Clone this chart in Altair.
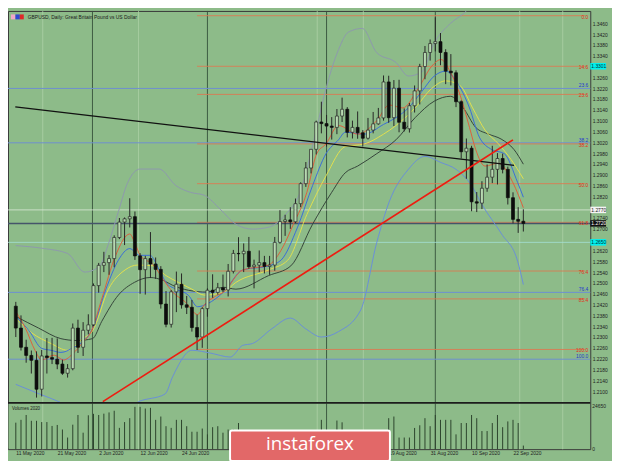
import altair as alt
import pandas as pd

BG = "#8dbb89"

# ---------------- candles (index 0 = 11 May 2020, daily) ----------------
opens = [1.2414,1.2333,1.2262,1.2232,1.2214,1.2107,1.2230,1.2224,1.2218,1.2200,
         1.2166,1.2183,1.2333,1.2262,1.2325,1.2345,1.2490,1.2565,1.2575,1.2590,
         1.2668,1.2725,1.2737,1.2745,1.2600,1.2549,1.2590,1.2570,1.2550,1.2422,
         1.2347,1.2467,1.2495,1.2419,1.2410,1.2335,1.2300,1.2405,1.2473,1.2465,
         1.2482,1.2474,1.2543,1.2609,1.2608,1.2617,1.2560,1.2566,1.2575,1.2561,
         1.2566,1.2650,1.2727,1.2733,1.2726,1.2793,1.2867,1.2925,1.2994,1.3095,
         1.3089,1.3080,1.3075,1.3117,1.3142,1.3057,1.3075,1.3055,1.3035,1.3065,
         1.3088,1.3110,1.3243,1.3111,1.3220,1.3094,1.3070,1.3155,1.3210,1.3300,
         1.3352,1.3385,1.3392,1.3352,1.3283,1.3277,1.3170,1.2985,1.2998,1.2800,
         1.2795,1.2850,1.2891,1.2920,1.2960,1.2920,1.2815,1.2735,1.2728]
highs = [1.2430,1.2380,1.2290,1.2250,1.2247,1.2252,1.2296,1.2297,1.2295,1.2216,
         1.2200,1.2350,1.2364,1.2355,1.2384,1.2498,1.2574,1.2615,1.2603,1.2676,
         1.2740,1.2742,1.2813,1.2764,1.2610,1.2600,1.2688,1.2594,1.2562,1.2470,
         1.2474,1.2542,1.2535,1.2452,1.2437,1.2383,1.2410,1.2480,1.2532,1.2500,
         1.2531,1.2570,1.2622,1.2669,1.2646,1.2670,1.2586,1.2620,1.2600,1.2600,
         1.2670,1.2769,1.2752,1.2780,1.2812,1.2872,1.2947,1.2995,1.3100,1.3170,
         1.3121,1.3113,1.3143,1.3185,1.3150,1.3100,1.3134,1.3065,1.3110,1.3132,
         1.3147,1.3267,1.3266,1.3250,1.3251,1.3145,1.3165,1.3230,1.3310,1.3376,
         1.3400,1.3482,1.3424,1.3364,1.3346,1.3286,1.3175,1.3034,1.3007,1.2836,
         1.2876,1.2938,1.3007,1.2980,1.2978,1.2930,1.2835,1.2780,1.2772]
lows = [1.2300,1.2250,1.2205,1.2165,1.2076,1.2080,1.2165,1.2200,1.2181,1.2160,
        1.2150,1.2177,1.2241,1.2230,1.2310,1.2340,1.2464,1.2540,1.2530,1.2558,
        1.2662,1.2640,1.2705,1.2585,1.2460,1.2457,1.2518,1.2515,1.2405,1.2336,
        1.2335,1.2392,1.2405,1.2385,1.2320,1.2252,1.2260,1.2375,1.2445,1.2457,
        1.2466,1.2450,1.2535,1.2580,1.2540,1.2552,1.2480,1.2540,1.2535,1.2530,
        1.2545,1.2645,1.2674,1.2700,1.2721,1.2780,1.2855,1.2905,1.2975,1.3053,
        1.3004,1.3030,1.3050,1.3095,1.3038,1.3034,1.3033,1.3004,1.3030,1.3053,
        1.3085,1.3100,1.3092,1.3080,1.3057,1.3060,1.3056,1.3130,1.3160,1.3253,
        1.3322,1.3356,1.3305,1.3235,1.3230,1.3150,1.2960,1.2885,1.2765,1.2762,
        1.2773,1.2837,1.2869,1.2864,1.2905,1.2790,1.2720,1.2685,1.2690]
closes = [1.2333,1.2262,1.2232,1.2214,1.2107,1.2230,1.2224,1.2218,1.2200,1.2166,
          1.2183,1.2333,1.2262,1.2325,1.2345,1.2490,1.2565,1.2575,1.2590,1.2668,
          1.2725,1.2737,1.2745,1.2600,1.2549,1.2590,1.2570,1.2550,1.2422,1.2347,
          1.2467,1.2495,1.2419,1.2410,1.2335,1.2300,1.2405,1.2473,1.2465,1.2482,
          1.2474,1.2543,1.2609,1.2608,1.2617,1.2560,1.2566,1.2575,1.2561,1.2566,
          1.2650,1.2727,1.2733,1.2726,1.2793,1.2867,1.2925,1.2994,1.3095,1.3089,
          1.3080,1.3075,1.3117,1.3142,1.3057,1.3075,1.3055,1.3035,1.3065,1.3088,
          1.3110,1.3243,1.3111,1.3220,1.3094,1.3070,1.3155,1.3210,1.3300,1.3352,
          1.3385,1.3392,1.3352,1.3283,1.3277,1.3170,1.2985,1.2998,1.2800,1.2795,
          1.2850,1.2891,1.2920,1.2960,1.2920,1.2815,1.2735,1.2728,1.2720]
volumes = [15000,
           16600,19350,16060,16060,15340,15340,13150,13700,11120,6580,13860,19350,9320,19180,
           20000,
           19350,20100,20800,21750,12060,15340,17540,23950,23950,23000,23400,16600,18470,13000,
           12060,16600,16600,13000,9860,9860,11670,8380,12440,13000,9320,11120,11000,14800,
           10000,10500,9000,9500,8000,8500,9500,10500,9000,9500,9000,10000,10500,10800,
           10500,16600,10000,9500,16200,15200,9000,9500,10000,9000,9500,8500,9000,10800,
           17540,18470,6580,6580,6580,12000,13530,17540,13000,19350,16600,16600,16600,8380,
           14800,14800,19350,17540,10250,10250,14800,19350,12440,15710,16600,14800,2020]

# date labels that are visible (the ones between 24 Jun and 19 Aug sit under the logo banner)
tick_idx = [0, 8, 16, 24, 32, 72, 80, 88, 96]
tick_labels = ["11 May 2020", "21 May 2020", "2 Jun 2020", "12 Jun 2020", "24 Jun 2020",
               "19 Aug 2020", "31 Aug 2020", "10 Sep 2020", "22 Sep 2020"]
# price scale labels (the ones hidden behind the price markers are left out)
price_ticks = [round(1.2100 + 0.004 * i, 4) for i in range(35)]
price_ticks = [p for p in price_ticks if p not in (1.3300, 1.2780, 1.2660)]

# ---------------- indicator lines (index, price) ----------------
ma_red_x = [0,1.85,3.7,5.0,7.4,9.2,11.1,12.9,14.6,16.6,19.2,22.0,22.9,24.0,26.6,28.5,30.3,32.7,35.1,36.4,38.3,40.1,
            43.8,48.8,51.2,53.6,56.2,58.1,59.9,62.3,66.0,69.7,72.1,74.7,77.7,80.3,82.1,83.9,85.8,87.6,88.8,90.6,93.2,95.6,98]
ma_red_y = [1.2394,1.2333,1.2251,1.2215,1.2233,1.2215,1.2240,1.2279,1.2322,1.2441,1.2598,1.2681,1.2652,1.2602,1.2566,
            1.2512,1.2466,1.2430,1.2383,1.2419,1.2448,1.2466,1.2548,1.2566,1.2620,1.2717,1.2835,1.2978,1.3014,1.3082,
            1.3050,1.3100,1.3158,1.3147,1.3219,1.3301,1.3326,1.3280,1.3194,1.3075,1.2993,1.2932,1.2943,1.2885,1.2778]
ma_blue_x = [0,2.6,5.0,6.8,8.7,11.1,13.7,14.8,17.4,19.8,22.0,23.9,25.9,27.7,29.0,30.9,33.3,35.1,37.0,40.1,43.8,48.8,
             51.2,54.4,57.3,59.9,62.3,63.6,67.3,71.0,73.4,75.8,78.4,80.8,83.0,85.1,87.6,89.5,91.9,94.3,96.9,98]
ma_blue_y = [1.2376,1.2322,1.2258,1.2251,1.2243,1.2261,1.2297,1.2330,1.2477,1.2584,1.2627,1.2602,1.2602,1.2548,1.2502,
             1.2477,1.2455,1.2412,1.2423,1.2466,1.2548,1.2563,1.2584,1.2706,1.2860,1.2978,1.3029,1.3057,1.3050,1.3086,
             1.3111,1.3147,1.3208,1.3265,1.3283,1.3244,1.3147,1.3039,1.2993,1.2978,1.2871,1.2817]
ma_yellow_x = [0,3.1,6.8,10.0,12.9,14.8,17.9,21.1,23.5,26.6,29.0,31.4,34.0,36.4,40.1,42.5,48.8,52.5,56.2,59.9,63.6,
               67.3,71.0,73.4,77.1,80.3,83.0,85.8,88.2,90.6,93.2,95.6,98]
ma_yellow_y = [1.2369,1.2315,1.2276,1.2251,1.2294,1.2322,1.2477,1.2548,1.2566,1.2563,1.2527,1.2502,1.2477,1.2455,1.2466,
               1.2502,1.2548,1.2584,1.2753,1.2896,1.3004,1.3014,1.3050,1.3082,1.3147,1.3219,1.3247,1.3229,1.3147,1.3065,
               1.3014,1.2957,1.2885]
ma_dark_x = [0,4.4,8.7,11.8,14.8,16.6,19.8,22.9,25.9,28.5,30.3,33.3,37.0,40.1,42.5,48.8,53.1,57.3,61.0,63.6,66.0,69.7,
             73.4,77.1,80.8,83.9,86.4,88.8,91.3,93.7,96.2,98]
ma_dark_y = [1.2376,1.2333,1.2294,1.2287,1.2294,1.2358,1.2455,1.2502,1.2520,1.2509,1.2491,1.2473,1.2466,1.2484,1.2477,
             1.2527,1.2563,1.2717,1.2835,1.2907,1.2932,1.2978,1.3029,1.3111,1.3172,1.3190,1.3147,1.3075,1.3050,1.3032,
             1.2993,1.2939]
bb_up_x = [0,5.5,10.0,13.3,16.1,17.9,19.8,21.6,24.0,27.7,30.9,33.7,36.4,39.6,42.5,45.7,48.8,52.1,54.9,57.7,59.9,62.3,
           64.2,66.9,69.7,73.4,75.8,78.4,80.8,83.9,86.4,90.0,98]
bb_up_y = [1.2638,1.2627,1.2609,1.2540,1.2560,1.2645,1.2763,1.2871,1.2921,1.2921,1.2860,1.2835,1.2824,1.2770,1.2717,
           1.2699,1.2706,1.2753,1.2835,1.3039,1.3219,1.3362,1.3427,1.3441,1.3351,1.3315,1.3265,1.3280,1.3387,1.3459,
           1.3495,1.3560,1.3600]
bb_lo_x = [0,4.6,8.3,12.4,17.9,23.7,28.8,30.3,34.0,37.7,41.4,43.8,45.7,49.4,53.0,56.0,59.0,62.3,66.6,69.7,72.1,75.8,
           79.0,82.1,85.0,88.0,90.0,93.8,96.9,98]
bb_lo_y = [1.2125,1.2089,1.2061,1.2018,1.1990,1.2061,1.2089,1.2154,1.2251,1.2240,1.2226,1.2269,1.2276,1.2330,1.2370,
           1.2330,1.2300,1.2320,1.2400,1.2650,1.2800,1.2920,1.2968,1.2945,1.2920,1.2860,1.2790,1.2681,1.2580,1.2494]

# trend lines (index, price)
black_x = [-0.1, 96.2]
black_y = [1.3151, 1.2935]
red_x = [16.8, 96.0]
red_y = [1.2061, 1.3029]

# level lines
fib_prices = [1.3488, 1.3301, 1.3197, 1.3014, 1.2867, 1.2724, 1.2544, 1.2441, 1.2254]
fib_labels = ["0.0", "14.6", "23.6", "38.2", "50.0", "61.8", "76.4", "85.4", "100.0"]
fib_start = 35
blue_prices = [1.3219, 1.3018, 1.2465, 1.2218]
blue_labels = ["23.6", "38.2", "76.4", "100.0"]
bid_price = 1.2720
white_price = 1.2770
cyan_price = 1.2650
dark_vlines = [14.8, 37, 60, 81]
light_vlines = [5.2, 23.7, 58.2, 67.1, 97.3, 105.6]
marker_prices = [1.3301, 1.2770, 1.2720, 1.2650]
marker_texts = ["1.3301", "1.2770", "1.2720", "1.2650"]
marker_fill = ["#00f0f0", "#f4f4f4", "#111111", "#00f0f0"]
marker_tcol = ["#003333", "#222222", "#ffffff", "#003333"]

# ---------------- scales & axes ----------------
X_DOM = [-0.5547, 109.97]
P_DOM = [1.18854, 1.35055]
V_DOM = [0, 248170]
xs = alt.Scale(domain=X_DOM, nice=False, zero=False)
ps = alt.Scale(domain=P_DOM, nice=False, zero=False)
vs = alt.Scale(domain=V_DOM, nice=False, zero=False)
label_map = "{" + ",".join("'%d':'%s'" % (i, s) for i, s in zip(tick_idx, tick_labels)) + "}"
XAX = alt.Axis(values=tick_idx, labelExpr=f"{label_map}[datum.label]",
               labelAlign="left", labelBaseline="top", labelFontSize=5, labelColor="#222", ticks=False,
               domain=False, grid=False, labelPadding=1, title=None, labelFont="Liberation Sans",
               labelOverlap=False, labelFlush=False, format="d")
PAX = alt.Axis(orient="right", values=price_ticks, format=".4f", labelFontSize=5, labelColor="#222",
               ticks=False, domain=False, grid=False, labelPadding=2, title=None,
               labelFont="Liberation Sans", labelOverlap=False, labelFlush=False)


def X(field="idx"):
    return alt.X(f"{field}:Q", scale=xs, axis=XAX)


def P(field="price"):
    return alt.Y(f"{field}:Q", scale=ps, axis=PAX)


cdf = pd.DataFrame(dict(idx=list(range(len(opens))), open=opens, high=highs, low=lows,
                        close=closes, vol=volumes))
one = pd.DataFrame(dict(a=[0]))

wick = alt.Chart(cdf).mark_rule(color="#262626", strokeWidth=1).encode(x=X(), y=P("low"), y2="high:Q")
body = alt.Chart(cdf).mark_bar(size=3, strokeWidth=0.7).encode(
    x=X(), y=P("open"), y2="close:Q",
    fill=alt.condition("datum.close >= datum.open", alt.value("#b7d9b1"), alt.value("#0d0d0d")),
    stroke=alt.condition("datum.close >= datum.open", alt.value("#262626"), alt.value("#0d0d0d")),
)

vdark = alt.Chart(pd.DataFrame(dict(idx=dark_vlines))).mark_rule(color="#34503a", strokeWidth=0.9).encode(x=X())
vlight = alt.Chart(pd.DataFrame(dict(idx=light_vlines))).mark_rule(color="#acd0a6", strokeWidth=0.8).encode(x=X())

bdf = pd.DataFrame(dict(price=blue_prices, label=blue_labels))
hblue = alt.Chart(bdf).mark_rule(color="#6e8fd0", strokeWidth=1).encode(y=P())
hwhite = alt.Chart(pd.DataFrame(dict(price=[white_price]))).mark_rule(color="#dcebd9", strokeWidth=0.8).encode(y=P())
hcyan = alt.Chart(pd.DataFrame(dict(price=[cyan_price]))).mark_rule(color="#a4e0d6", strokeWidth=0.8).encode(y=P())
fdf = pd.DataFrame(dict(price=fib_prices, label=fib_labels))
hfib = alt.Chart(fdf).transform_calculate(x0=str(fib_start), x1=str(X_DOM[1])).mark_rule(
    color="#db7a52", strokeWidth=0.9).encode(x=X("x0"), x2="x1:Q", y=P())
hbid = alt.Chart(pd.DataFrame(dict(price=[bid_price]))).mark_rule(color="#45546a", strokeWidth=1.6).encode(y=P())
fib_text = alt.Chart(fdf).mark_text(align="right", baseline="middle", fontSize=5, color="#e0301a",
                                    font="Liberation Sans", dy=1).encode(x=alt.value(588), y=P(), text="label:N")
blue_text = alt.Chart(bdf).mark_text(align="right", baseline="middle", fontSize=5, color="#2438d0",
                                     font="Liberation Sans", dy=-3).encode(x=alt.value(588), y=P(), text="label:N")


def line(xv, yv, color, width=1.0, interp="monotone"):
    d = pd.DataFrame(dict(idx=xv, price=yv))
    return alt.Chart(d).mark_line(color=color, strokeWidth=width, clip=True, interpolate=interp).encode(
        x=X(), y=P())


bb_up = line(bb_up_x, bb_up_y, "#8e98ae")
bb_lo = line(bb_lo_x, bb_lo_y, "#6a8ed8")
ma_dark = line(ma_dark_x, ma_dark_y, "#35443a")
ma_yellow = line(ma_yellow_x, ma_yellow_y, "#e2df4e")
ma_blue = line(ma_blue_x, ma_blue_y, "#3a6dd8")
ma_red = line(ma_red_x, ma_red_y, "#dc5f3c")
trend_black = line(black_x, black_y, "#111111", 1.3, "linear")
trend_red = line(red_x, red_y, "#ee1c10", 1.7, "linear")

mdf = pd.DataFrame(dict(price=marker_prices, txt=marker_texts, fill=marker_fill, tcol=marker_tcol))
mbox = alt.Chart(mdf).transform_calculate(lo="datum.price - 0.0012", hi="datum.price + 0.0012").mark_rect().encode(
    x=alt.value(590), x2=alt.value(606), y=P("lo"), y2="hi:Q", fill=alt.Color("fill:N", scale=None))
mtxt = alt.Chart(mdf).mark_text(align="left", baseline="middle", fontSize=5, font="Liberation Sans").encode(
    x=alt.value(591), y=P(), text="txt:N", color=alt.Color("tcol:N", scale=None))

title = alt.Chart(one).mark_text(align="left", baseline="middle", fontSize=5, color="#1a1a1a",
                                 font="Liberation Sans").encode(
    x=alt.value(20), y=alt.value(6), text=alt.value("GBPUSD, Daily:  Great Britain Pound vs US Dollar"))
flag_pink = alt.Chart(one).mark_rect(fill="#f0a8c8").encode(x=alt.value(3), x2=alt.value(7.5), y=alt.value(3.5), y2=alt.value(8.5))
flag_blue = alt.Chart(one).mark_rect(fill="#3048d0").encode(x=alt.value(7.5), x2=alt.value(12), y=alt.value(3.5), y2=alt.value(8.5))
flag_red = alt.Chart(one).mark_rect(fill="#e02828").encode(x=alt.value(12), x2=alt.value(16), y=alt.value(3.5), y2=alt.value(8.5))

main = alt.layer(vlight, vdark, hblue, hwhite, hcyan, hfib, hbid,
                 bb_up, bb_lo, ma_dark, ma_yellow, ma_blue, ma_red,
                 wick, body, trend_black, trend_red,
                 fib_text, blue_text, mbox, mtxt, title, flag_pink, flag_blue, flag_red)

# ---------------- volume panel ----------------
vol_bg = alt.Chart(one).mark_rect(fill=BG).encode(
    x=alt.value(0.5), x2=alt.value(589.5), y=alt.value(397.5), y2=alt.value(443.5))
vol_vl = alt.Chart(pd.DataFrame(dict(idx=light_vlines))).mark_rule(color="#acd0a6", strokeWidth=0.8).encode(
    x=X(), y=alt.value(398), y2=alt.value(444))
vol_vd = alt.Chart(pd.DataFrame(dict(idx=dark_vlines))).mark_rule(color="#34503a", strokeWidth=0.9).encode(
    x=X(), y=alt.value(398), y2=alt.value(444))
vol_bars = alt.Chart(cdf).mark_rule(color="#2c432c", strokeWidth=1).encode(
    x=X(), y=alt.Y("vol:Q", scale=vs, axis=None), y2=alt.datum(0))
sep = alt.Chart(one).mark_rule(color="#1c1c1c", strokeWidth=1.8).encode(
    x=alt.value(0), x2=alt.value(590), y=alt.value(397))
vol_title = alt.Chart(one).mark_text(align="left", baseline="middle", fontSize=4.5, color="#1a1a1a",
                                     font="Liberation Sans").encode(
    x=alt.value(4), y=alt.value(403), text=alt.value("Volumes 2020"))
vlab = alt.Chart(pd.DataFrame(dict(v=[24650, 0], t=["24650", "0"]))).mark_text(
    align="left", baseline="middle", fontSize=5, color="#222", font="Liberation Sans").encode(
    x=alt.value(592), y=alt.Y("v:Q", scale=vs, axis=None), text="t:N")

banner = alt.Chart(one).mark_rect(fill="#e26868", stroke="white", strokeWidth=2, cornerRadius=2).encode(
    x=alt.value(225), x2=alt.value(387), y=alt.value(425), y2=alt.value(456))
banner_txt = alt.Chart(one).mark_text(align="center", baseline="middle", fontSize=19, color="white",
                                      font="Open Sans").encode(
    x=alt.value(306), y=alt.value(439), text=alt.value("instaforex"))

vol = alt.layer(vol_bg, vol_vl, vol_vd, vol_bars, sep, vol_title, vlab, banner, banner_txt)

chart = alt.layer(main, vol).resolve_scale(y="independent").properties(
    width=590, height=444,
    autosize=alt.AutoSizeParams(type="none"),
    padding={"left": 0, "top": 0, "right": 22, "bottom": 9},
    background=BG,
).configure_view(stroke="#3a3a3a", strokeWidth=1)

chart.save("out.html", embed_options={"renderer": "svg", "actions": False})
